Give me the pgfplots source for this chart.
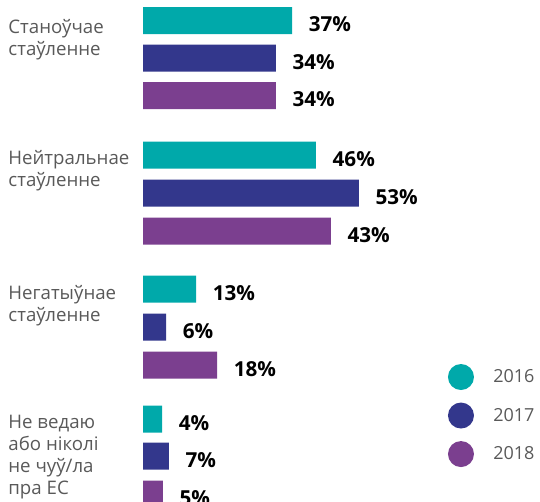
\documentclass[border=0pt]{standalone}
\usepackage{pgfplots}
\pgfplotsset{compat=1.18}
\usepackage{fontspec}
\setmainfont{Open Sans}
\definecolor{c2016}{HTML}{00A9AA}
\definecolor{c2017}{HTML}{33378C}
\definecolor{c2018}{HTML}{7B3F8F}
\definecolor{lblgray}{HTML}{595959}
\begin{document}
\begin{tikzpicture}
\begin{axis}[
  width=405pt, height=375.75pt, scale only axis,
  xmin=-35.31, xmax=98.02, ymin=0, ymax=501, y dir=reverse,
  axis lines=none, ticks=none, clip=true,
  bar width=27, bar shift=0pt,
  nodes near coords,
  point meta=explicit symbolic,
  every node near coord/.append style={font=\bfseries\fontsize{15.5}{18}\selectfont, text=black, anchor=west, xshift=9pt, yshift=-3pt},
  legend style={at={(axis cs:75.3,364)}, anchor=north west, draw=none, fill=none, inner sep=0pt, outer sep=0pt,
    row sep=9.4pt, column sep=0pt,
    nodes={inner sep=0pt, text=lblgray, font=\fontsize{13.5}{16}\selectfont}},
  legend cell align=left,
]
\addplot[xbar, fill=c2016, draw=none,
  legend image code/.code={\fill[c2016] (9.75pt,0pt) circle (9.75pt); \path (34pt,0pt);}]
  coordinates {(36.8,20.5)[37\%] (42.7,155)[46\%] (13.1,289)[13\%] (4.7,419)[4\%]};
\addlegendentry{2016}
\addplot[xbar, fill=c2017, draw=none,
  legend image code/.code={\fill[c2017] (9.75pt,0pt) circle (9.75pt); \path (34pt,0pt);}]
  coordinates {(32.8,58)[34\%] (53.3,193)[53\%] (5.7,327)[6\%] (6.4,456)[7\%]};
\addlegendentry{2017}
\addplot[xbar, fill=c2018, draw=none,
  legend image code/.code={\fill[c2018] (9.75pt,0pt) circle (9.75pt); \path (34pt,0pt);}]
  coordinates {(32.8,95.5)[34\%] (46.4,231)[43\%] (18.3,365)[18\%] (4.9,494)[5\%]};
\addlegendentry{2018}
\begin{scope}[every node/.style={anchor=base west, align=left, inner sep=0pt, text=lblgray, font=\fontsize{14}{16.5}\selectfont}]
\node at (axis cs:-33.3,55) {Станоўчае\\стаўленне};
\node at (axis cs:-33.3,186) {Нейтральнае\\стаўленне};
\node at (axis cs:-33.3,321) {Негатыўнае\\стаўленне};
\node at (axis cs:-33.3,494) {Не ведаю\\або ніколі\\не чуў/ла\\пра ЕС};
\end{scope}
\end{axis}
\pgfresetboundingbox
\useasboundingbox (current axis.south west) rectangle (current axis.north east);
\end{tikzpicture}
\end{document}
